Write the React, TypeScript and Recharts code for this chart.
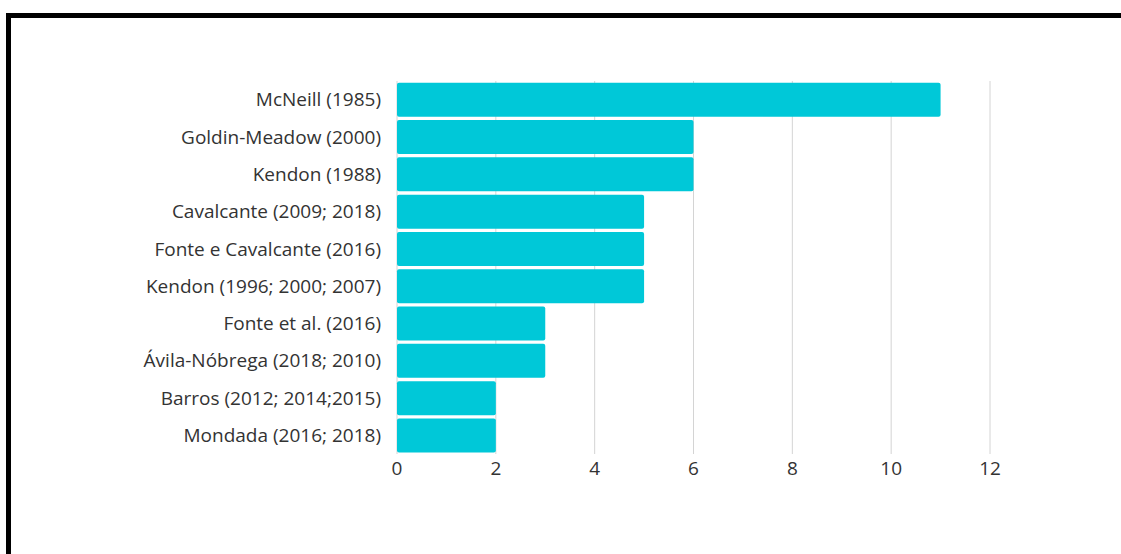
import React from "react";
import { BarChart, Bar, XAxis, YAxis, CartesianGrid } from "recharts";

const authors = [
  "McNeill (1985)",
  "Goldin-Meadow (2000)",
  "Kendon (1988)",
  "Cavalcante (2009; 2018)",
  "Fonte e Cavalcante (2016)",
  "Kendon (1996; 2000; 2007)",
  "Fonte et al. (2016)",
  "Ávila-Nóbrega (2018; 2010)",
  "Barros (2012; 2014;2015)",
  "Mondada (2016; 2018)",
];
const counts = [11, 6, 6, 5, 5, 5, 3, 3, 2, 2];
const xTicks = [0, 2, 4, 6, 8, 10, 12];

const data = authors.map((name, i) => ({ name, value: counts[i] }));

const font = "'Open Sans', sans-serif";

export default function App() {
  return (
    <div
      style={{
        position: "absolute",
        left: 0,
        top: 0,
        width: 1121,
        height: 554,
        background: "#fff",
        fontFamily: font,
      }}
    >
      <BarChart
        width={1121}
        height={554}
        data={data}
        layout="vertical"
        margin={{ top: 81, right: 131, bottom: 70, left: 0 }}
        barCategoryGap={1.75}
      >
        <CartesianGrid horizontal={false} stroke="#d4d4d4" />
        <XAxis
          type="number"
          domain={[0, 12]}
          ticks={xTicks}
          axisLine={false}
          tickLine={false}
          tick={{ fill: "#333", fontSize: 19, fontFamily: font }}
        />
        <YAxis
          type="category"
          dataKey="name"
          width={397}
          axisLine={false}
          tickLine={false}
          tickMargin={10}
          interval={0}
          tick={{ fill: "#333", fontSize: 19, fontFamily: font }}
        />
        <Bar dataKey="value" fill="#00c8d8" radius={2} isAnimationActive={false} />
      </BarChart>
      <div style={{ position: "absolute", left: 6, top: 13, right: 0, height: 5, background: "#000" }} />
      <div style={{ position: "absolute", left: 6, top: 13, width: 5, bottom: 0, background: "#000" }} />
    </div>
  );
}
